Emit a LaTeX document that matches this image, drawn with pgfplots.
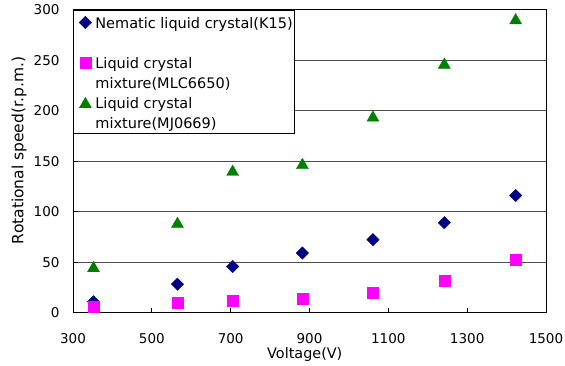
\documentclass[border=0pt]{standalone}
\usepackage{fontspec}
\setmainfont{DejaVu Sans}
\usepackage{pgfplots}
\pgfplotsset{compat=1.18}
\definecolor{knavy}{RGB}{0,0,128}
\definecolor{kmag}{RGB}{255,0,255}
\definecolor{kgreen}{RGB}{0,128,0}
\newcommand{\rs}{\rule[-1.5pt]{0pt}{17pt}}
\begin{document}
\begin{tikzpicture}[x=1pt,y=1pt]
\path[use as bounding box] (0,0) rectangle (565,365);
\begin{axis}[
  at={(73pt,52.4pt)}, anchor=south west,
  scale only axis, width=473pt, height=303pt,
  xmin=300, xmax=1500, ymin=0, ymax=300,
  xtick={300,500,...,1500}, ytick={0,50,...,300},
  tick align=inside, tick pos=left, major tick length=5pt,
  major tick style={black, line width=0.7pt},
  ymajorgrids, major grid style={black!70, line width=0.7pt},
  axis line style={black, line width=0.8pt},
  /pgf/number format/assume math mode=true,
  /pgf/number format/set thousands separator={},
  ticklabel style={font=\fontsize{13.5}{16}\selectfont},
  xticklabel style={anchor=base, yshift=-31pt},
  yticklabel style={xshift=-10pt},
  xlabel={Voltage(V)},
  xlabel style={font=\fontsize{14.4}{17}\selectfont, at={(axis description cs:0.49,-0.137)}, anchor=center},
  ylabel={Rotational speed(r.p.m.)},
  ylabel style={font=\fontsize{15.5}{19}\selectfont, at={(axis description cs:-0.114,0.535)}, anchor=center},
  legend cell align=left,
  legend style={at={(rel axis cs:0,1)}, anchor=north west, draw=black, line width=0.8pt, fill=white,
    font=\fontsize{14.5}{20}\selectfont, inner xsep=2pt, inner ysep=3pt, row sep=3pt,
    nodes={inner xsep=0pt, inner ysep=0pt}},
  legend image code/.code={\path[draw=none,fill=none] (0pt,-6pt) rectangle (20pt,6pt); \draw[#1] plot coordinates {(10pt,-1pt)};},
]
\addplot[only marks, color=knavy, mark=square*, mark size=4.4pt, mark options={rotate=45, fill=knavy, draw=knavy, line width=0.3pt}]
  coordinates {(352,10.8) (565,28.1) (705,45.6) (882,59) (1061,72.2) (1242,89) (1423,115.9)};
\addlegendentry{\rs Nematic liquid crystal(K15)}
\addlegendimage{empty legend}
\addlegendentry{\rs}
\addplot[only marks, color=kmag, mark=square*, mark size=5.5pt, mark options={fill=kmag, draw=kmag, line width=0.3pt}]
  coordinates {(352,5.9) (565,9.5) (705,11.8) (882,13.8) (1061,19.5) (1242,31.4) (1423,52)};
\addlegendentry{\rs Liquid crystal}
\addlegendimage{empty legend}
\addlegendentry{\rs mixture(MLC6650)}
\addplot[only marks, color=kgreen, mark=triangle*, mark size=7pt, mark options={fill=kgreen, draw=kgreen, line width=0.3pt, yshift=-1.75pt}]
  coordinates {(352,45.6) (565,89.4) (705,141) (882,147.7) (1061,194.7) (1242,247) (1423,291)};
\addlegendentry{\rs Liquid crystal}
\addlegendimage{empty legend}
\addlegendentry{\rs mixture(MJ0669)}
\end{axis}
\end{tikzpicture}
\end{document}
